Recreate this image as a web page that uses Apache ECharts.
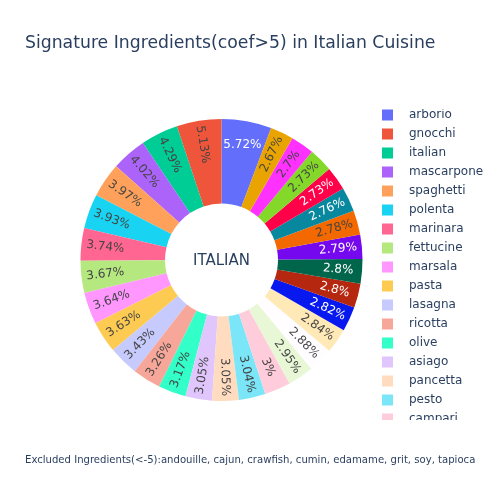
<!DOCTYPE html>
<html>
<head>
<meta charset="utf-8">
<script src="https://cdn.jsdelivr.net/npm/echarts@6/dist/echarts.min.js"></script>
<style>
  html, body { margin: 0; padding: 0; background: #fff; }
  #chart { width: 500px; height: 500px; }
</style>
</head>
<body>
<div id="chart"></div>
<script>
// ---- data ----
const ingredients = [
  "arborio", "gnocchi", "italian", "mascarpone", "spaghetti", "polenta",
  "marinara", "fettucine", "marsala", "pasta", "lasagna", "ricotta",
  "olive", "asiago", "pancetta", "pesto", "campari", "prosciutto",
  "parmesan", "mozzarella", "basil", "oregano", "pecorino", "ciabatta",
  "focaccia", "risotto", "gorgonzola", "biscotti", "amaretto", "limoncello"
];
const shares = [
  5.72, 5.13, 4.29, 4.02, 3.97, 3.93,
  3.74, 3.67, 3.64, 3.63, 3.43, 3.26,
  3.17, 3.05, 3.05, 3.04, 3.00, 2.95,
  2.88, 2.84, 2.82, 2.80, 2.80, 2.79,
  2.78, 2.76, 2.73, 2.73, 2.70, 2.67
];
const chartTitle = "Signature Ingredients(coef>5) in Italian Cuisine";
const footnote = "Excluded Ingredients(<-5):andouille, cajun, crawfish, cumin, edamame, grit, soy, tapioca";
const centerLabel = "ITALIAN";

// ---- colours: plotly colorway extended (lighter / darker by 20) ----
const baseColors = ["#636efa", "#EF553B", "#00cc96", "#ab63fa", "#FFA15A",
                    "#19d3f3", "#FF6692", "#B6E880", "#FF97FF", "#FECB52"];
function hexToRgb(h) {
  h = h.replace('#', '');
  return [parseInt(h.substr(0, 2), 16), parseInt(h.substr(2, 2), 16), parseInt(h.substr(4, 2), 16)];
}
function rgbToHsl(r, g, b) {
  r /= 255; g /= 255; b /= 255;
  const max = Math.max(r, g, b), min = Math.min(r, g, b);
  let h, s, l = (max + min) / 2;
  if (max === min) { h = s = 0; }
  else {
    const d = max - min;
    s = l > 0.5 ? d / (2 - max - min) : d / (max + min);
    if (max === r) h = (g - b) / d + (g < b ? 6 : 0);
    else if (max === g) h = (b - r) / d + 2;
    else h = (r - g) / d + 4;
    h /= 6;
  }
  return [h, s, l];
}
function hue2rgb(p, q, t) {
  if (t < 0) t += 1;
  if (t > 1) t -= 1;
  if (t < 1 / 6) return p + (q - p) * 6 * t;
  if (t < 1 / 2) return q;
  if (t < 2 / 3) return p + (q - p) * (2 / 3 - t) * 6;
  return p;
}
function hslToHex(h, s, l) {
  let r, g, b;
  if (s === 0) { r = g = b = l; }
  else {
    const q = l < 0.5 ? l * (1 + s) : l + s - l * s;
    const p = 2 * l - q;
    r = hue2rgb(p, q, h + 1 / 3);
    g = hue2rgb(p, q, h);
    b = hue2rgb(p, q, h - 1 / 3);
  }
  const hx = v => { const x = Math.round(v * 255).toString(16); return x.length < 2 ? '0' + x : x; };
  return '#' + hx(r) + hx(g) + hx(b);
}
function shift(hex, amt) {
  const [r, g, b] = hexToRgb(hex);
  const [h, s, l] = rgbToHsl(r, g, b);
  const nl = Math.min(1, Math.max(0, l + amt / 100));
  return hslToHex(h, s, nl);
}
const palette = baseColors.map(c => c.toLowerCase())
  .concat(baseColors.map(c => shift(c, 20)))
  .concat(baseColors.map(c => shift(c, -20)));
function textColorFor(hex) {
  const [r, g, b] = hexToRgb(hex);
  const brightness = (r * 299 + g * 587 + b * 114) / 1000;
  return brightness < 128 ? '#ffffff' : '#444444';
}

const FONT = "'DejaVu Sans', Verdana, sans-serif";
const total = shares.reduce((a, b) => a + b, 0);
const startAngle = 90 - 360 * shares[0] / total;

const sliceData = ingredients.map((n, i) => ({
  name: n, value: shares[i], itemStyle: { color: palette[i % palette.length] }
}));
const labelData = ingredients.map((n, i) => ({
  name: n, value: shares[i],
  itemStyle: { color: 'rgba(0,0,0,0)' },
  label: {
    color: textColorFor(palette[i % palette.length]),
    rotate: i === 0 ? 0 : 'radial'
  }
}));

const chart = echarts.init(document.getElementById('chart'), null, { renderer: 'canvas' });
chart.setOption({
  animation: false,
  backgroundColor: '#ffffff',
  color: palette,
  title: [
    {
      text: chartTitle, left: 25, top: 35, padding: 0,
      textStyle: { fontFamily: FONT, fontSize: 17.25, fontWeight: 'normal', color: '#2a3f5f' }
    },
    {
      text: footnote, left: 25, top: 455, padding: 0,
      textStyle: { fontFamily: FONT, fontSize: 10.1, fontWeight: 'normal', color: '#2a3f5f' }
    }
  ],
  legend: {
    type: 'scroll',
    orient: 'vertical',
    left: 382, top: 109, height: 312,
    padding: 0,
    itemWidth: 11, itemHeight: 11, itemGap: 7,
    icon: 'rect',
    data: ingredients,
    textStyle: { fontFamily: FONT, fontSize: 12, color: '#2a3f5f', padding: [0, 0, 0, 11] },
    pageIconSize: 0,
    pageIconColor: 'rgba(0,0,0,0)',
    pageIconInactiveColor: 'rgba(0,0,0,0)',
    pageTextStyle: { color: 'rgba(0,0,0,0)', fontSize: 1 },
    pageFormatter: '',
    pageButtonGap: 0,
    pageButtonItemGap: 0
  },
  graphic: [{
    type: 'text', x: 221.5, y: 261,
    style: { text: centerLabel, align: 'center', verticalAlign: 'middle',
             fontFamily: FONT, fontSize: 15, fill: '#2a3f5f' }
  }],
  series: [
    {
      name: 'slices', type: 'pie',
      center: [221.5, 260], radius: [56.5, 141],
      clockwise: false, startAngle: startAngle,
      avoidLabelOverlap: false,
      label: { show: false }, labelLine: { show: false },
      itemStyle: { borderWidth: 0 },
      emphasis: { disabled: true },
      data: sliceData
    },
    {
      name: 'labels', type: 'pie', silent: true,
      center: [221.5, 260], radius: [87, 141],
      clockwise: false, startAngle: startAngle,
      avoidLabelOverlap: false,
      label: {
        show: true, position: 'inside', formatter: '{c}%',
        fontFamily: FONT, fontSize: 12
      },
      labelLine: { show: false },
      emphasis: { disabled: true },
      data: labelData
    }
  ]
});
</script>
</body>
</html>
